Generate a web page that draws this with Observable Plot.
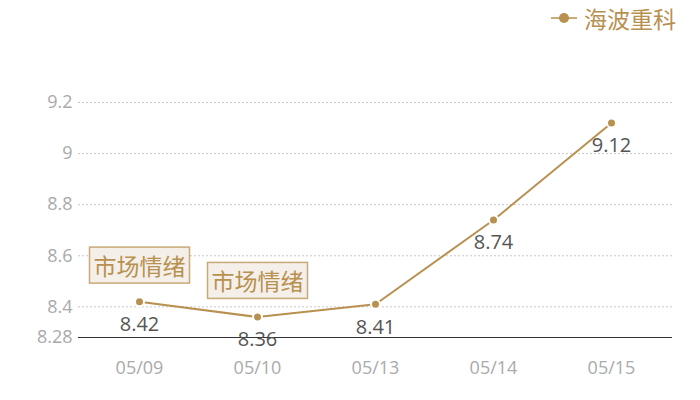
<!DOCTYPE html>
<html>
<head>
<meta charset="utf-8">
<script src="https://cdn.jsdelivr.net/npm/d3@7"></script>
<script src="https://cdn.jsdelivr.net/npm/@observablehq/plot@0.6"></script>
<style>
  body { margin: 0; background: #fff; font-family: "Noto Sans CJK SC", "Open Sans", sans-serif; }
  #legend { height: 36px; position: relative; }
  #legend .item { position: absolute; right: 24px; top: 1px; display: flex; align-items: center; color: #b8904f; font-size: 23px; line-height: 34px; font-family: "Noto Sans CJK SC", sans-serif; }
  #legend svg { margin-right: 7px; }
</style>
</head>
<body>
<div id="legend"><div class="item"><svg width="26" height="12"><line x1="0" y1="6" x2="26" y2="6" stroke="#b8904f" stroke-width="1.5"/><circle cx="13" cy="6" r="5" fill="#b8904f"/></svg><span>海波重科</span></div></div>
<div id="chart"></div>
<script>
const dates = ["05/09", "05/10", "05/13", "05/14", "05/15"];
const values = [8.42, 8.36, 8.41, 8.74, 9.12];
const yTicks = [8.28, 8.4, 8.6, 8.8, 9, 9.2];
const gridTicks = [8.4, 8.6, 8.8, 9, 9.2];
const annotationDates = ["05/09", "05/10"];
const annotationText = "市场情绪";

const data = dates.map((d, i) => ({date: d, value: values[i]}));
const annotations = data.filter(d => annotationDates.includes(d.date));
const gold = "#b8904f";

const plot = Plot.plot({
  width: 700,
  height: 364,
  marginLeft: 78,
  marginRight: 28,
  marginTop: 66,
  marginBottom: 63,
  style: {fontFamily: "'Open Sans', 'Noto Sans', sans-serif", background: "#fff"},
  x: {type: "point", domain: dates, padding: 0.5, label: null},
  y: {domain: [8.28, 9.2], label: null},
  marks: [
    Plot.ruleY(gridTicks, {stroke: "#c8c8c8", strokeDasharray: "2,2", strokeWidth: 1}),
    Plot.ruleY([8.28], {stroke: "#333", strokeWidth: 1}),
    Plot.axisX({fontSize: 18, color: "#aaa", tickSize: 0, tickPadding: 24}),
    Plot.axisY({ticks: yTicks, tickFormat: d => String(d), fontSize: 18, color: "#aaa", tickSize: 0, tickPadding: 6}),
    Plot.line(data, {x: "date", y: "value", stroke: gold, strokeWidth: 2}),
    Plot.dot(data, {x: "date", y: "value", r: 4.5, fill: gold, stroke: "#fff", strokeWidth: 2}),
    Plot.text(data, {x: "date", y: "value", text: d => String(d.value), dy: 23, fontSize: 20, fill: "#555"}),
    Plot.text(annotations, {x: "date", y: "value", text: () => annotationText, dy: -34, fontSize: 23, fill: gold, fontFamily: "'Noto Sans CJK SC', sans-serif", className: "anno"})
  ]
});
document.getElementById("chart").appendChild(plot);

// draw label boxes behind annotation texts
const svg = plot.tagName.toLowerCase() === "svg" ? plot : plot.querySelector("svg");
svg.querySelectorAll("g.anno text").forEach(t => {
  const b = t.getBBox();
  const padX = 4, padY = 2;
  const rect = document.createElementNS("http://www.w3.org/2000/svg", "rect");
  rect.setAttribute("x", b.x - padX);
  rect.setAttribute("y", b.y - padY + 1);
  rect.setAttribute("width", b.width + 2 * padX);
  rect.setAttribute("height", b.height + 2 * padY - 2);
  rect.setAttribute("fill", "#f4efe8");
  rect.setAttribute("stroke", "#c9a977");
  rect.setAttribute("stroke-width", "1.5");
  const tr = t.getAttribute("transform");
  if (tr) rect.setAttribute("transform", tr);
  t.parentNode.insertBefore(rect, t);
});
</script>
</body>
</html>
